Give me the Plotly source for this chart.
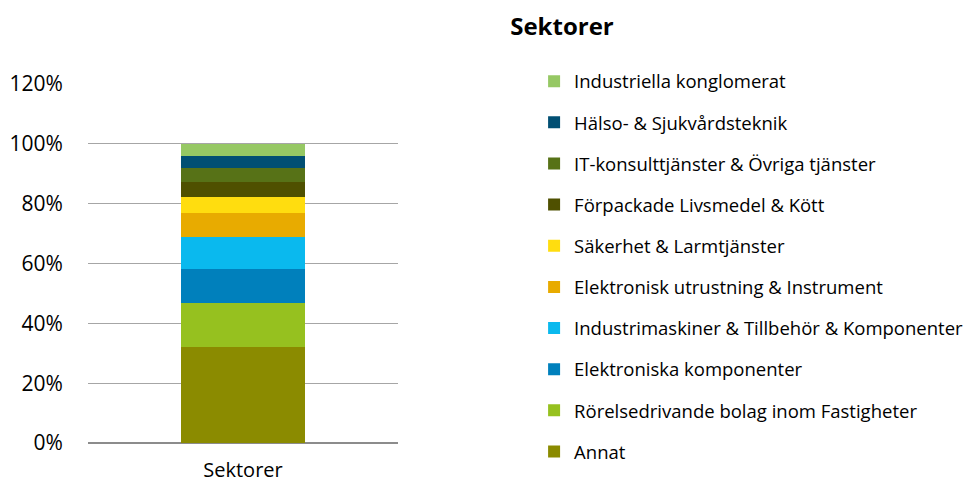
import plotly.graph_objects as go

categories = ["Sektorer"]
series_names = [
    "Annat",
    "Rörelsedrivande bolag inom Fastigheter",
    "Elektroniska komponenter",
    "Industrimaskiner & Tillbehör & Komponenter",
    "Elektronisk utrustning & Instrument",
    "Säkerhet & Larmtjänster",
    "Förpackade Livsmedel & Kött",
    "IT-konsulttjänster & Övriga tjänster",
    "Hälso- & Sjukvårdsteknik",
    "Industriella konglomerat",
]
series_values = [0.321, 0.147, 0.112, 0.110, 0.078, 0.053, 0.050, 0.047, 0.042, 0.040]
series_colors = ["#8b8b00", "#96c11f", "#0080bc", "#0ab9ee", "#e8ab00",
                 "#ffdd0f", "#4f5000", "#577217", "#014f73", "#96c864"]
tick_vals = [0, 0.2, 0.4, 0.6, 0.8, 1.0, 1.2]
tick_text = ["0%", "20%", "40%", "60%", "80%", "100%", "120%"]

FONT = "'Open Sans', Lato, sans-serif"

fig = go.Figure()
n = len(series_names)
for i, (name, val, col) in enumerate(zip(series_names, series_values, series_colors)):
    fig.add_trace(go.Bar(
        x=categories, y=[val], name=name, marker_color=col,
        marker_line_width=0, width=0.4, legendgroup=f"g{i}",
        legendrank=n - i,
    ))

fig.update_layout(
    barmode="stack",
    width=969, height=475,
    margin=dict(l=80, r=579, t=76, b=40, autoexpand=False),
    paper_bgcolor="white", plot_bgcolor="white",
    font=dict(family=FONT, size=21, color="#000000"),
    title=dict(text="<b>Sektorer</b>", x=0.5717, xanchor="center",
               y=0.96, yanchor="middle", font=dict(size=24, family=FONT)),
    showlegend=True,
    legend=dict(
        x=1.439, xanchor="left", yref="container", y=0.885, yanchor="top",
        traceorder="grouped", tracegroupgap=14.1, maxheight=1,
        font=dict(size=18.5, family=FONT),
        itemwidth=30, bgcolor="rgba(0,0,0,0)",
    ),
    xaxis=dict(range=[-0.5, 0.5], showgrid=False, showline=False,
               tickfont=dict(size=20), ticks="outside", ticklen=9, tickcolor="white"),
    yaxis=dict(range=[0, 1.2], tickvals=tick_vals, ticktext=tick_text,
               showgrid=True, gridcolor="#a6a6a6", gridwidth=1,
               zeroline=True, zerolinecolor="#8c8c8c", zerolinewidth=1.5,
               showline=False, ticks="outside", ticklen=20, tickcolor="white",
               tickfont=dict(size=21)),
)

fig.write_html("out.html")
